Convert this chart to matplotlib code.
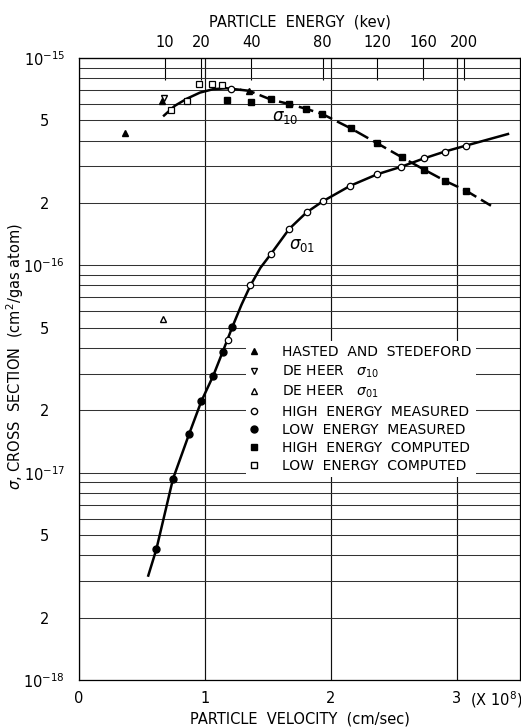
import numpy as np
import matplotlib.pyplot as plt
from matplotlib.lines import Line2D

# velocities in units of 1e8 cm/sec, cross sections in cm^2/gas atom
# Hasted and Stedeford (filled triangles)
hasted_v = [0.365, 0.655, 1.349]
hasted_s = [4.35e-16, 6.2e-16, 6.95e-16]

# De Heer sigma_10 (open down triangle) and sigma_01 (open up triangle)
deheer10_v = [0.675]
deheer10_s = [6.4e-16]
deheer01_v = [0.669]
deheer01_s = [5.52e-17]

# high energy measured (open circles)
hem_v = [1.180, 1.361, 1.526, 1.669, 1.806, 1.937, 2.153, 2.367, 2.558, 2.738, 2.905, 3.071, 1.209]
hem_s = [4.37e-17, 8.0e-17, 1.14e-16, 1.50e-16, 1.80e-16, 2.04e-16, 2.42e-16, 2.75e-16,
         2.99e-16, 3.28e-16, 3.54e-16, 3.78e-16, 7.11e-16]

# low energy measured (filled circles)
lem_v = [0.614, 0.746, 0.871, 0.971, 1.066, 1.140, 1.218]
lem_s = [4.27e-18, 9.33e-18, 1.53e-17, 2.21e-17, 2.94e-17, 3.82e-17, 5.06e-17]

# high energy computed (filled squares)
hec_v = [1.172, 1.365, 1.521, 1.667, 1.802, 1.931, 2.157, 2.367, 2.563, 2.742, 2.909, 3.073]
hec_s = [6.29e-16, 6.14e-16, 6.31e-16, 6.0e-16, 5.69e-16, 5.37e-16, 4.58e-16, 3.88e-16,
         3.32e-16, 2.89e-16, 2.55e-16, 2.29e-16]

# low energy computed (open squares)
lec_v = [0.730, 0.860, 0.952, 1.053, 1.135]
lec_s = [5.64e-16, 6.21e-16, 7.52e-16, 7.52e-16, 7.41e-16]

# drawn curves
s01_curve_v = [0.550, 0.614, 0.746, 0.873, 0.971, 1.066, 1.140, 1.218, 1.290, 1.361, 1.440,
               1.526, 1.669, 1.806, 1.937, 2.153, 2.367, 2.558, 2.738, 2.905, 3.071, 3.405]
s01_curve_s = [3.19e-18, 4.27e-18, 9.33e-18, 1.53e-17, 2.21e-17, 2.94e-17, 3.82e-17, 5.06e-17,
               6.46e-17, 8.0e-17, 9.73e-17, 1.14e-16, 1.50e-16, 1.80e-16, 2.04e-16, 2.42e-16,
               2.75e-16, 2.99e-16, 3.28e-16, 3.54e-16, 3.78e-16, 4.3e-16]

s10_solid_v = [0.675, 0.762, 0.857, 0.960, 1.063, 1.167, 1.278]
s10_solid_s = [5.28e-16, 5.89e-16, 6.37e-16, 6.81e-16, 7.07e-16, 7.15e-16, 7.03e-16]
s10_dash_v = [1.278, 1.349, 1.521, 1.667, 1.802, 1.931, 2.157, 2.367, 2.563, 2.742, 2.909, 3.073, 3.270]
s10_dash_s = [7.03e-16, 6.95e-16, 6.31e-16, 6.0e-16, 5.69e-16, 5.37e-16, 4.58e-16, 3.88e-16,
              3.32e-16, 2.89e-16, 2.55e-16, 2.29e-16, 1.94e-16]

# axis ticks
ytick_vals = [1e-18, 2e-18, 5e-18, 1e-17, 2e-17, 5e-17, 1e-16, 2e-16, 5e-16, 1e-15]
ytick_text = ['10$^{-18}$', '2', '5', '10$^{-17}$', '2', '5', '10$^{-16}$', '2', '5', '10$^{-15}$']
xtick_vals = [0, 1, 2, 3]
xtick_text = ['0', '1', '2', '3']
energy_ticks = [10, 20, 40, 80, 120, 160, 200]
K = 21.4  # keV per (1e8 cm/sec)^2 for helium

plt.rcParams['font.family'] = 'DejaVu Sans'
plt.rcParams['mathtext.fontset'] = 'dejavusans'

fig = plt.figure(figsize=(5.21, 7.27), dpi=100)
ax = fig.add_axes([0.1516, 0.0646, 0.8464, 0.8556])
ax.set_yscale('log')
ax.set_xlim(0, 3.5)
ax.set_ylim(1e-18, 1e-15)

# grid
minor = [m * 10.0**e for e in (-18, -17, -16) for m in range(2, 10)]
ax.set_yticks(minor, minor=True)
ax.set_yticks(ytick_vals, ytick_text)
ax.set_xticks(xtick_vals, xtick_text)
ax.yaxis.grid(True, which='both', color='#333333', lw=0.75)
ax.xaxis.grid(True, color='#111111', lw=0.85)
ax.set_axisbelow(True)
ax.tick_params(axis='both', which='both', length=0, labelsize=10.5)
ax.tick_params(axis='y', pad=25)
for lab in ax.get_yticklabels():
    lab.set_horizontalalignment('center')
ax.tick_params(axis='x', pad=8)
for sp in ax.spines.values():
    sp.set_linewidth(0.9)

# curves
ax.plot(s01_curve_v, s01_curve_s, color='k', lw=1.8, zorder=3)
ax.plot(s10_solid_v, s10_solid_s, color='k', lw=1.8, zorder=3)
ax.plot(s10_dash_v, s10_dash_s, color='k', lw=1.8, dashes=(6, 2.2), zorder=3)

# data points
ax.plot(hasted_v, hasted_s, ls='none', marker='^', color='k', ms=4.8, zorder=4)
ax.plot(deheer10_v, deheer10_s, ls='none', marker='v', mfc='white', mec='k', ms=4.5, zorder=4)
ax.plot(deheer01_v, deheer01_s, ls='none', marker='^', mfc='white', mec='k', ms=4.5, zorder=4)
ax.plot(hem_v, hem_s, ls='none', marker='o', mfc='white', mec='k', ms=4.6, mew=0.9, zorder=4)
ax.plot(lem_v, lem_s, ls='none', marker='o', color='k', ms=5, zorder=4)
ax.plot(hec_v, hec_s, ls='none', marker='s', color='k', ms=4.2, zorder=4)
ax.plot(lec_v, lec_s, ls='none', marker='s', mfc='white', mec='k', ms=4.2, mew=0.9, zorder=4)

ax.text(1.53, 5.2e-16, r'$\sigma_{10}$', fontsize=12, ha='left', va='center')
ax.text(1.67, 1.26e-16, r'$\sigma_{01}$', fontsize=12, ha='left', va='center')

# legend
handles = [
    Line2D([], [], ls='none', marker='^', color='k', ms=4.5),
    Line2D([], [], ls='none', marker='v', mfc='white', mec='k', ms=4.5),
    Line2D([], [], ls='none', marker='^', mfc='white', mec='k', ms=4.5),
    Line2D([], [], ls='none', marker='o', mfc='white', mec='k', ms=4.5),
    Line2D([], [], ls='none', marker='o', color='k', ms=5),
    Line2D([], [], ls='none', marker='s', color='k', ms=4.5),
    Line2D([], [], ls='none', marker='s', mfc='white', mec='k', ms=4.5),
]
labels = ['HASTED  AND  STEDEFORD', r'DE HEER   $\sigma_{10}$', r'DE HEER   $\sigma_{01}$',
          'HIGH  ENERGY  MEASURED', 'LOW  ENERGY  MEASURED', 'HIGH  ENERGY  COMPUTED',
          'LOW  ENERGY  COMPUTED']
leg = ax.legend(handles, labels, loc='upper left', bbox_to_anchor=(0.378, 0.545),
                fontsize=10, frameon=True, facecolor='white', edgecolor='none', framealpha=1,
                fancybox=False, handlelength=0.6, handletextpad=1.75, labelspacing=0.3,
                borderpad=0.3, borderaxespad=0)
leg.set_zorder(5)

# top energy axis
sec = ax.secondary_xaxis('top', functions=(lambda v: K * np.asarray(v)**2,
                                           lambda e: np.sqrt(np.maximum(e, 0) / K)))
sec.set_xticks(energy_ticks)
sec.set_xticklabels([str(e) for e in energy_ticks])
sec.tick_params(direction='in', length=16, width=0.8, pad=6, labelsize=10.5)
sec.set_xlabel('PARTICLE  ENERGY  (kev)', fontsize=10.5, labelpad=6)

ax.set_xlabel('PARTICLE  VELOCITY  (cm/sec)', fontsize=10.5, labelpad=4)
ax.set_ylabel(r'$\sigma$, CROSS  SECTION  (cm$^2$/gas atom)', fontsize=10.5)
ax.yaxis.set_label_coords(-0.12, 0.52)
ax.text(3.1, -0.032, r'(X 10$^8$)', transform=ax.get_xaxis_transform(),
        fontsize=10.5, ha='left', va='center')

fig.savefig('out.png', dpi=100)
